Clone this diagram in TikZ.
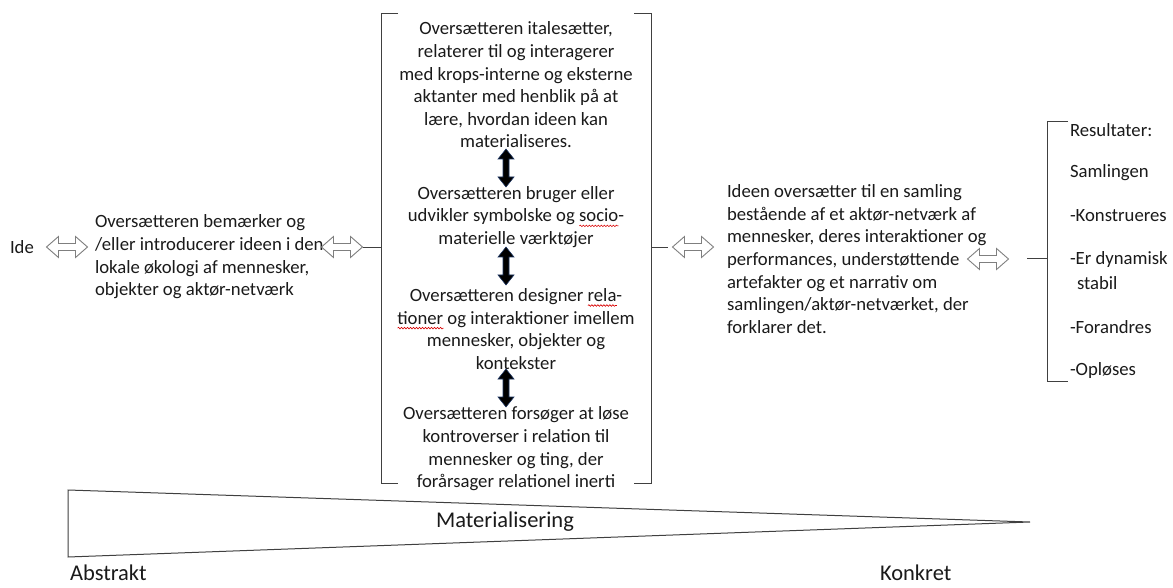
\documentclass[tikz,border=0pt]{standalone}
\usepackage{fontspec}
\setmainfont{Carlito}
\usetikzlibrary{decorations.pathmorphing}
\definecolor{txt}{HTML}{1A1A1A}
\definecolor{ln}{HTML}{404040}
\definecolor{hol}{HTML}{7F7F7F}
\definecolor{navy}{HTML}{1F3864}
\newsavebox\wavybox
\newcommand\wavy[1]{\sbox\wavybox{#1}\edef\wavyw{\the\wd\wavybox}\rlap{\raisebox{-4pt}{\tikz[baseline=0pt]\draw[red!85!black,line width=0.6pt,decorate,decoration={snake,amplitude=0.8pt,segment length=3pt}] (0pt,0pt) -- (\wavyw,0pt);}}\usebox\wavybox}
\begin{document}
\begin{tikzpicture}[x=1pt,y=-1pt,
  font=\fontsize{18.7}{22.6}\selectfont, text=txt,
  txtnode/.style={inner sep=0pt, outer sep=0pt},
  bigtxt/.style={inner sep=0pt, outer sep=0pt, font=\fontsize{22.5}{26}\selectfont},
  conn/.style={draw=ln, line width=0.8pt},
  hollowarrow/.pic={\draw[draw=hol,fill=white,line width=0.9pt] (-20.5,0) -- (-8.5,-10.5) -- (-8.5,-3.5) -- (8.5,-3.5) -- (8.5,-10.5) -- (20.5,0) -- (8.5,10.5) -- (8.5,3.5) -- (-8.5,3.5) -- (-8.5,10.5) -- cycle;},
  vertarrow/.pic={\draw[draw=navy,fill=black,line width=0.6pt] (0,-19) -- (8,-9) -- (3,-9) -- (3,9) -- (8,9) -- (0,19) -- (-8,9) -- (-3,9) -- (-3,-9) -- (-8,-9) -- cycle;}]
\useasboundingbox (0,0) rectangle (1173,588);
\fill[white] (0,0) rectangle (1173,588);

% left part
\node[txtnode, anchor=west] (ide) at (10,247) {Ide};
\pic at (67,247) {hollowarrow};
\node[txtnode, anchor=west, align=left] (left) at (95,257) {Oversætteren bemærker og\\/eller introducerer ideen i den\\lokale økologi af mennesker,\\objekter og aktør-netværk};
\pic at (342,247) {hollowarrow};
\coordinate (la) at (362.5,247);
\coordinate (lb) at (381,247);
\draw[conn] (la) -- (lb);

% center bracket
\coordinate (ctl) at (381,13);
\coordinate (cbl) at (381,483);
\coordinate (ctr) at (651,13);
\coordinate (cbr) at (651,483);
\draw[conn] ([xshift=17pt]ctl) -- (ctl) -- (cbl) -- ([xshift=17pt]cbl);
\draw[conn] ([xshift=-17pt]ctr) -- (ctr) -- (cbr) -- ([xshift=-17pt]cbr);

\node[txtnode, align=center] (b1) at (516,85) {Oversætteren italesætter,\\relaterer til og interagerer\\med krops-interne og eksterne\\aktanter med henblik på at\\lære, hvordan ideen kan\\materialiseres.};
\pic at (506,168) {vertarrow};
\node[txtnode, align=center] (b2) at (516,217) {Oversætteren bruger eller\\udvikler symbolske og \wavy{socio}-\\materielle værktøjer};
\pic at (506,266) {vertarrow};
\node[txtnode, align=center] (b3) at (516,329) {Oversætteren designer \wavy{rela}-\\\wavy{tioner} og interaktioner imellem\\mennesker, objekter og\\kontekster};
\pic at (506,388) {vertarrow};
\node[txtnode, align=center] (b4) at (516,449) {Oversætteren forsøger at løse\\kontroverser i relation til\\mennesker og ting, der\\forårsager relationel inerti};

% right of center
\coordinate (ra) at (651,247);
\coordinate (rb) at (668,247);
\draw[conn] (ra) -- (rb);
\pic at (693,247) {hollowarrow};
\node[txtnode, anchor=west, align=left] (right) at (727,259) {Ideen oversætter til en samling\\bestående af et aktør-netværk af\\mennesker, deres interaktioner og\\performances, understøttende\\artefakter og et narrativ om\\samlingen/aktør-netværket, der\\forklarer det.};
\pic at (988,259) {hollowarrow};

% results bracket
\coordinate (sa) at (1027,258);
\coordinate (sb) at (1047,258);
\draw[conn] (sa) -- (sb);
\coordinate (rtl) at (1047,121);
\coordinate (rbl) at (1047,381);
\draw[conn] ([xshift=21pt]rtl) -- (rtl) -- (rbl) -- ([xshift=21pt]rbl);
\node[txtnode, anchor=west] (r1) at (1070,130) {Resultater:};
\node[txtnode, anchor=west] (r2) at (1070,173) {Samlingen};
\node[txtnode, anchor=west] (r3) at (1070,216) {-Konstrueres};
\node[txtnode, anchor=west] (r4) at (1070,260) {-Er dynamisk};
\node[txtnode, anchor=west] (r5) at (1077,283) {stabil};
\node[txtnode, anchor=west] (r6) at (1070,327) {-Forandres};
\node[txtnode, anchor=west] (r7) at (1070,371) {-Opløses};

% materialisation wedge
\coordinate (tip) at (1030,522);
\coordinate (wtop) at (68,490);
\coordinate (wbot) at (68,557);
\draw[draw=ln, line width=1pt, line join=miter] (tip) -- (wtop) -- (wbot) -- cycle;
\node[bigtxt] (mat) at (505,522) {Materialisering};
\node[bigtxt, anchor=west] (abs) at (70,573) {Abstrakt};
\node[bigtxt, anchor=west] (kon) at (880,573) {Konkret};
\end{tikzpicture}
\end{document}
